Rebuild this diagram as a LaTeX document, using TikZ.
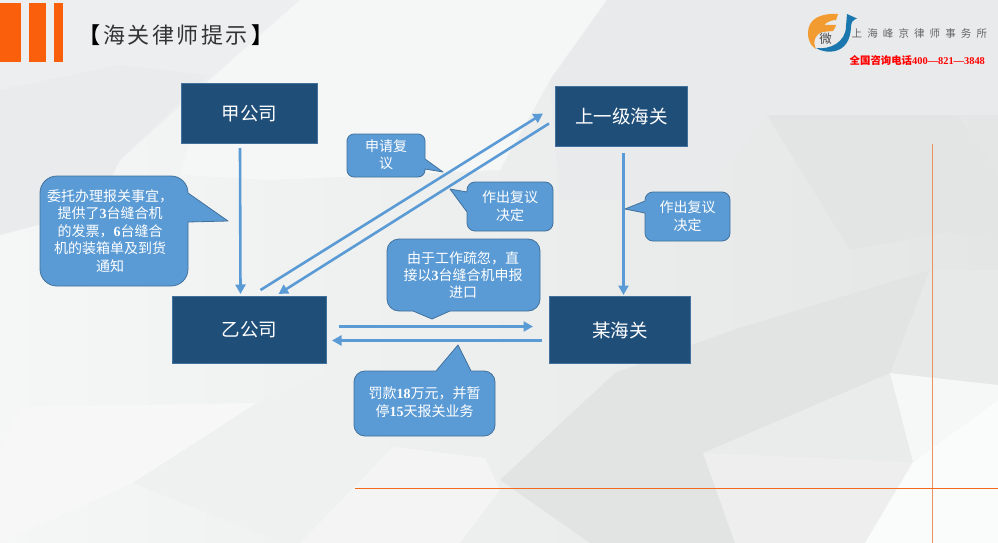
\documentclass[tikz,border=0pt]{standalone}
\usepackage{fontspec}
\setmainfont{Noto Sans CJK SC}
\newfontfamily\numfont{Liberation Serif}
\newcommand{\nm}[1]{{\numfont\bfseries #1}}
\newcommand{\fsp}{\hspace{5.1pt}}
\newcommand{\tsp}{\hspace{2.5pt}}
\usetikzlibrary{arrows.meta,calc}
\definecolor{boxfill}{HTML}{1F4E79}
\definecolor{boxline}{HTML}{41719C}
\definecolor{bluefill}{HTML}{5B9BD5}
\definecolor{orangebar}{HTML}{FA600C}
\definecolor{rulecolor}{HTML}{F56A1A}
\definecolor{rulesoft}{HTML}{EC9260}
\definecolor{logoorange}{HTML}{F29B30}
\definecolor{logoblue}{HTML}{1B78AE}
\definecolor{logotext}{HTML}{666666}
\definecolor{bgl}{HTML}{F5F6F6}
\definecolor{bgm}{HTML}{EEEFEF}
\definecolor{bgr}{HTML}{E4E5E5}
\tikzset{
  x=1pt,y=-1pt,
  orgbox/.style={draw=boxline,fill=boxfill,line width=1pt,text=white,font=\fontsize{18.5}{22}\selectfont,align=center,inner sep=0pt,anchor=north west},
  conn/.style={draw=bluefill,line width=2.6pt,-{Triangle[length=9.5pt,width=10pt]}},
  bubble/.style={draw=boxline,fill=bluefill,line width=0.8pt,line join=round},
  bubbletext/.style={text=white,font=\fontsize{14}{17.4}\selectfont,align=center,inner sep=0pt},
}
\newcommand{\facet}[2]{\definecolor{fc}{HTML}{#1}\fill[fc] #2 -- cycle;}
\begin{document}
\begin{tikzpicture}
\useasboundingbox (0,0) rectangle (998,543);
% background
\shade[left color=bgl,middle color=bgm,right color=bgr] (0,0) rectangle (998,543);
\facet{EDEEEF}{(0,0) -- (300,0) -- (207,82) -- (120,160) -- (0,235)}
\facet{EAEBEC}{(0,90) -- (120,65) -- (207,75) -- (120,160) -- (95,210) -- (0,235)}
\facet{F5F6F6}{(300,0) -- (607,0) -- (550,80) -- (500,170) -- (270,180) -- (180,175) -- (207,82)}
\facet{E9EAEB}{(607,0) -- (998,0) -- (998,115) -- (767,115) -- (700,200) -- (560,200) -- (550,80)}
\facet{E3E4E4}{(767,115) -- (957,115) -- (998,175) -- (998,240) -- (945,232) -- (850,250)}
\facet{E2E3E3}{(930,270) -- (890,373) -- (703,453) -- (735,543) -- (590,543) -- (500,480) -- (615,373) -- (733,330)}
\facet{E7E8E8}{(890,373) -- (930,270) -- (998,270) -- (998,385)}
\facet{EAEBEB}{(703,453) -- (890,373) -- (913,462)}
\facet{EEEEEE}{(703,453) -- (913,462) -- (865,543) -- (735,543)}
\facet{F6F7F7}{(890,373) -- (998,385) -- (998,400) -- (913,462)}
\facet{FAFBFB}{(913,462) -- (998,400) -- (998,543) -- (865,543)}
\facet{F7F7F8}{(20,407) -- (257,403) -- (133,483) -- (0,543) -- (0,450)}
\facet{EFF0F0}{(133,483) -- (257,403) -- (330,370) -- (355,400) -- (393,447) -- (300,543) -- (283,543)}
\facet{F4F4F5}{(393,447) -- (485,458) -- (500,490) -- (460,543) -- (300,543)}
% header
\fill[orangebar] (0,3) rectangle (21,62);
\fill[orangebar] (29,3) rectangle (46,62);
\fill[orangebar] (54,3) rectangle (63,62);
\node[font=\fontsize{22}{24}\selectfont,anchor=west,inner sep=0pt,text=black!80] (title) at (78.5,35.5) {{\bfseries\color{black}【}\tsp 海\tsp 关\tsp 律\tsp 师\tsp 提\tsp 示\tsp\hspace{1.5pt}{\bfseries\color{black}】}};
% logo
\fill[logoorange] (838,14) .. controls (820,13) and (808,19) .. (808,33) .. controls (808,41) and (811,46) .. (816,49) .. controls (812,41) and (816,34) .. (822,32) -- (833,31) .. controls (835,28) and (836,26) .. (836,25) -- (824,25) .. controls (828,21) and (833,20) .. (836,20) -- cycle;
\fill[logoblue] (857,18.5) -- (847,14) -- (846,26) .. controls (846,42) and (830,50) .. (816,48) .. controls (825,54) and (850,56) .. (851,27) .. controls (851,22) and (853,20) .. (857,18.5) -- cycle;
\node[font=\fontsize{12.5}{13}\selectfont,text=black!70,inner sep=0pt] (logomark) at (825.5,39) {微};
\node[font=\fontsize{10.5}{12}\selectfont,text=logotext,anchor=west,inner sep=0pt] (firm) at (851.5,33) {上\fsp 海\fsp 峰\fsp 京\fsp 律\fsp 师\fsp 事\fsp 务\fsp 所};
\node[font=\fontsize{10.4}{12}\selectfont\bfseries,text=red,anchor=west,inner sep=0pt] (phone) at (849.5,60.5) {全国咨询电话{\numfont 400—821—3848}};
% rules
\coordinate (vtop) at (932,144);
\coordinate (vbot) at (932,543);
\coordinate (hleft) at (355,488.5);
\coordinate (hright) at (998,488.5);
\draw[rulesoft,line width=0.9pt] (vtop) -- (vbot);
\draw[rulecolor,line width=1pt] (hleft) -- (hright);
% boxes
\node[orgbox,minimum width=136pt,minimum height=60pt] (jia) at (181,83) {甲公司};
\node[orgbox,minimum width=132pt,minimum height=60pt] (shang) at (555,86) {上一级海关};
\node[orgbox,minimum width=154pt,minimum height=67pt] (yi) at (172,296) {乙公司};
\node[orgbox,minimum width=141pt,minimum height=67pt] (mou) at (549,296) {某海关};
% connectors
\draw[conn] ([xshift=-9.5pt,yshift=-4pt]jia.south) -- ([xshift=-9pt,yshift=2pt]yi.north);
\draw[conn] ([xshift=11pt,yshift=6pt]yi.north) -- ([xshift=-12pt,yshift=3pt]shang.west);
\draw[conn] ([xshift=-6pt,yshift=-7pt]shang.west) -- ([xshift=29pt,yshift=2pt]yi.north);
\draw[conn] ([xshift=2pt,yshift=-6pt]shang.south) -- ([xshift=3.5pt,yshift=1pt]mou.north);
\draw[conn] ([xshift=12pt,yshift=3.5pt]yi.east) -- ([xshift=-16pt,yshift=3.5pt]mou.west);
\draw[conn] ([xshift=-7pt,yshift=-10.5pt]mou.west) -- ([xshift=5pt,yshift=-10.5pt]yi.east);
% bubbles
\draw[bubble] (57,176) -- (171,176) arc[start angle=-90,end angle=0,radius=17] -- (188,193) -- (228,221) -- (188,222) -- (188,269) arc[start angle=0,end angle=90,radius=17] -- (57,286) arc[start angle=90,end angle=180,radius=17] -- (40,193) arc[start angle=180,end angle=270,radius=17] -- cycle;
\node[bubbletext] (ba) at (110,231) {委托办理报关事宜，\\提供了\nm{3}台缝合机\\的发票，\nm{6}台缝合\\机的装箱单及到货\\通知};
\draw[bubble] (354,134) -- (418,134) arc[start angle=-90,end angle=0,radius=7] -- (425,159) -- (443,172) -- (425,169) -- (425,170) arc[start angle=0,end angle=90,radius=7] -- (354,177) arc[start angle=90,end angle=180,radius=7] -- (347,141) arc[start angle=180,end angle=270,radius=7] -- cycle;
\node[bubbletext] (bb) at (386,155) {申请复\\议};
\draw[bubble] (475,182) -- (545,182) arc[start angle=-90,end angle=0,radius=8] -- (553,223) arc[start angle=0,end angle=90,radius=8] -- (475,231) arc[start angle=90,end angle=180,radius=8] -- (467,212) -- (450,189) -- (467,192) -- (467,190) arc[start angle=180,end angle=270,radius=8] -- cycle;
\node[bubbletext] (bc) at (510,206) {作出复议\\决定};
\draw[bubble] (653,192) -- (722,192) arc[start angle=-90,end angle=0,radius=8] -- (730,233) arc[start angle=0,end angle=90,radius=8] -- (653,241) arc[start angle=90,end angle=180,radius=8] -- (645,213) -- (625,209) -- (645,201) -- (645,200) arc[start angle=180,end angle=270,radius=8] -- cycle;
\node[bubbletext] (bd) at (687.5,216) {作出复议\\决定};
\draw[bubble] (399,239) -- (528,239) arc[start angle=-90,end angle=0,radius=12] -- (540,299) arc[start angle=0,end angle=90,radius=12] -- (450,311) -- (432,319) -- (413,311) -- (399,311) arc[start angle=90,end angle=180,radius=12] -- (387,251) arc[start angle=180,end angle=270,radius=12] -- cycle;
\node[bubbletext] (be) at (463,275) {由于工作疏忽，直\\接以\nm{3}台缝合机申报\\进口};
\draw[bubble] (365,371) -- (436,371) -- (458,345) -- (471,371) -- (484,371) arc[start angle=-90,end angle=0,radius=11] -- (495,425) arc[start angle=0,end angle=90,radius=11] -- (365,436) arc[start angle=90,end angle=180,radius=11] -- (354,382) arc[start angle=180,end angle=270,radius=11] -- cycle;
\node[bubbletext] (bf) at (424.5,402) {罚款\nm{18}万元，并暂\\停\nm{15}天报关业务};
\end{tikzpicture}
\end{document}
